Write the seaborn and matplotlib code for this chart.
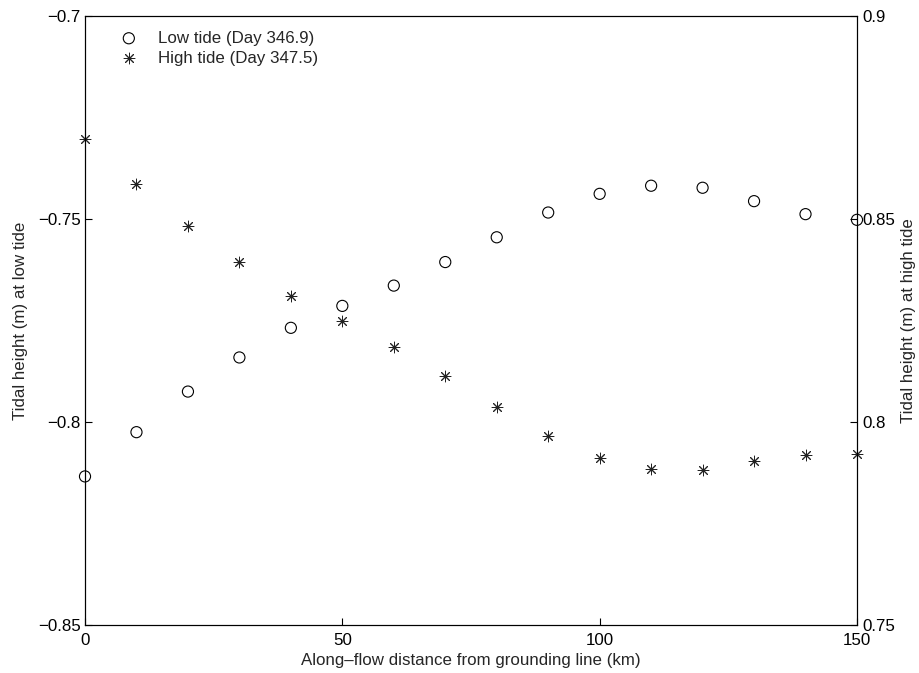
import matplotlib
matplotlib.use("Agg")
import matplotlib.pyplot as plt
import seaborn as sns
import pandas as pd

# ---- data ----
distance_km = [0, 10, 20, 30, 40, 50, 60, 70, 80, 90, 100, 110, 120, 130, 140, 150]
low_tide = [-0.8134, -0.8025, -0.7925, -0.7841, -0.7768, -0.7714, -0.7664, -0.7606,
            -0.7545, -0.7484, -0.7438, -0.7418, -0.7423, -0.7456, -0.7488, -0.7502]
high_tide = [0.8698, 0.8587, 0.8483, 0.8393, 0.8311, 0.8248, 0.8186, 0.8114,
             0.8038, 0.7966, 0.7911, 0.7884, 0.7883, 0.7903, 0.7919, 0.7921]

x_ticks = [0, 50, 100, 150]
x_tick_labels = ["0", "50", "100", "150"]
left_ticks = [-0.85, -0.8, -0.75, -0.7]
left_tick_labels = ["\u22120.85", "\u22120.8", "\u22120.75", "\u22120.7"]
right_ticks = [0.75, 0.8, 0.85, 0.9]
right_tick_labels = ["0.75", "0.8", "0.85", "0.9"]

low_label = "Low tide (Day 346.9)"
high_label = "High tide (Day 347.5)"

df = pd.DataFrame({"distance": distance_km, "low": low_tide, "high": high_tide})

sns.set_style("white")
plt.rcParams["font.family"] = ["Liberation Sans", "DejaVu Sans"]
FS = 12.2
plt.rcParams["font.size"] = FS

fig = plt.figure(figsize=(9.2, 6.73), dpi=100)
ax = fig.add_axes([0.0924, 0.0713, 0.8391, 0.9049])
ax2 = ax.twinx()

sns.scatterplot(data=df, x="distance", y="low", ax=ax, marker="o", s=64,
                facecolor="none", edgecolor="black", linewidth=0.8,
                label=low_label, legend=False, clip_on=False, zorder=3)
sns.scatterplot(data=df, x="distance", y="high", ax=ax2, marker=(8, 2, 0), s=60,
                color="#222222", edgecolor="#222222", linewidth=0.7,
                label=high_label, legend=False, clip_on=False, zorder=3)

ax.set_xlim(0, 150)
ax.set_ylim(-0.85, -0.7)
ax2.set_ylim(0.75, 0.9)

ax.set_xticks(x_ticks)
ax.set_xticklabels(x_tick_labels)
ax.set_yticks(left_ticks)
ax.set_yticklabels(left_tick_labels)
ax2.set_yticks(right_ticks)
ax2.set_yticklabels(right_tick_labels)

for a in (ax, ax2):
    for sp in a.spines.values():
        sp.set_visible(True)
        sp.set_color("black")
        sp.set_linewidth(0.8)
ax.tick_params(axis="both", direction="in", length=5, width=0.8, colors="black",
               labelsize=FS, left=True, bottom=True, right=False, top=False)
ax.tick_params(axis="x", pad=6)
ax.tick_params(axis="y", pad=3)
ax2.tick_params(axis="y", direction="in", length=5, width=0.8, colors="black",
                labelsize=FS, right=True, left=False, pad=4)

ax.set_xlabel("Along\u2013flow distance from grounding line (km)", fontsize=FS, labelpad=3)
ax.set_ylabel("Tidal height (m) at low tide", fontsize=FS, labelpad=7)
ax2.set_ylabel("Tidal height (m) at high tide", fontsize=FS, labelpad=4)
ax.grid(False)
ax2.grid(False)

h1, l1 = ax.get_legend_handles_labels()
h2, l2 = ax2.get_legend_handles_labels()
leg = ax.legend(h1 + h2, l1 + l2, loc="upper left", bbox_to_anchor=(0.037, 0.987),
                frameon=False, fontsize=FS, handletextpad=1.2, labelspacing=0.3,
                handlelength=1.0, borderaxespad=0)
ax.set_zorder(ax2.get_zorder() + 1)
ax.patch.set_visible(False)

fig.savefig("out.png", dpi=100)
